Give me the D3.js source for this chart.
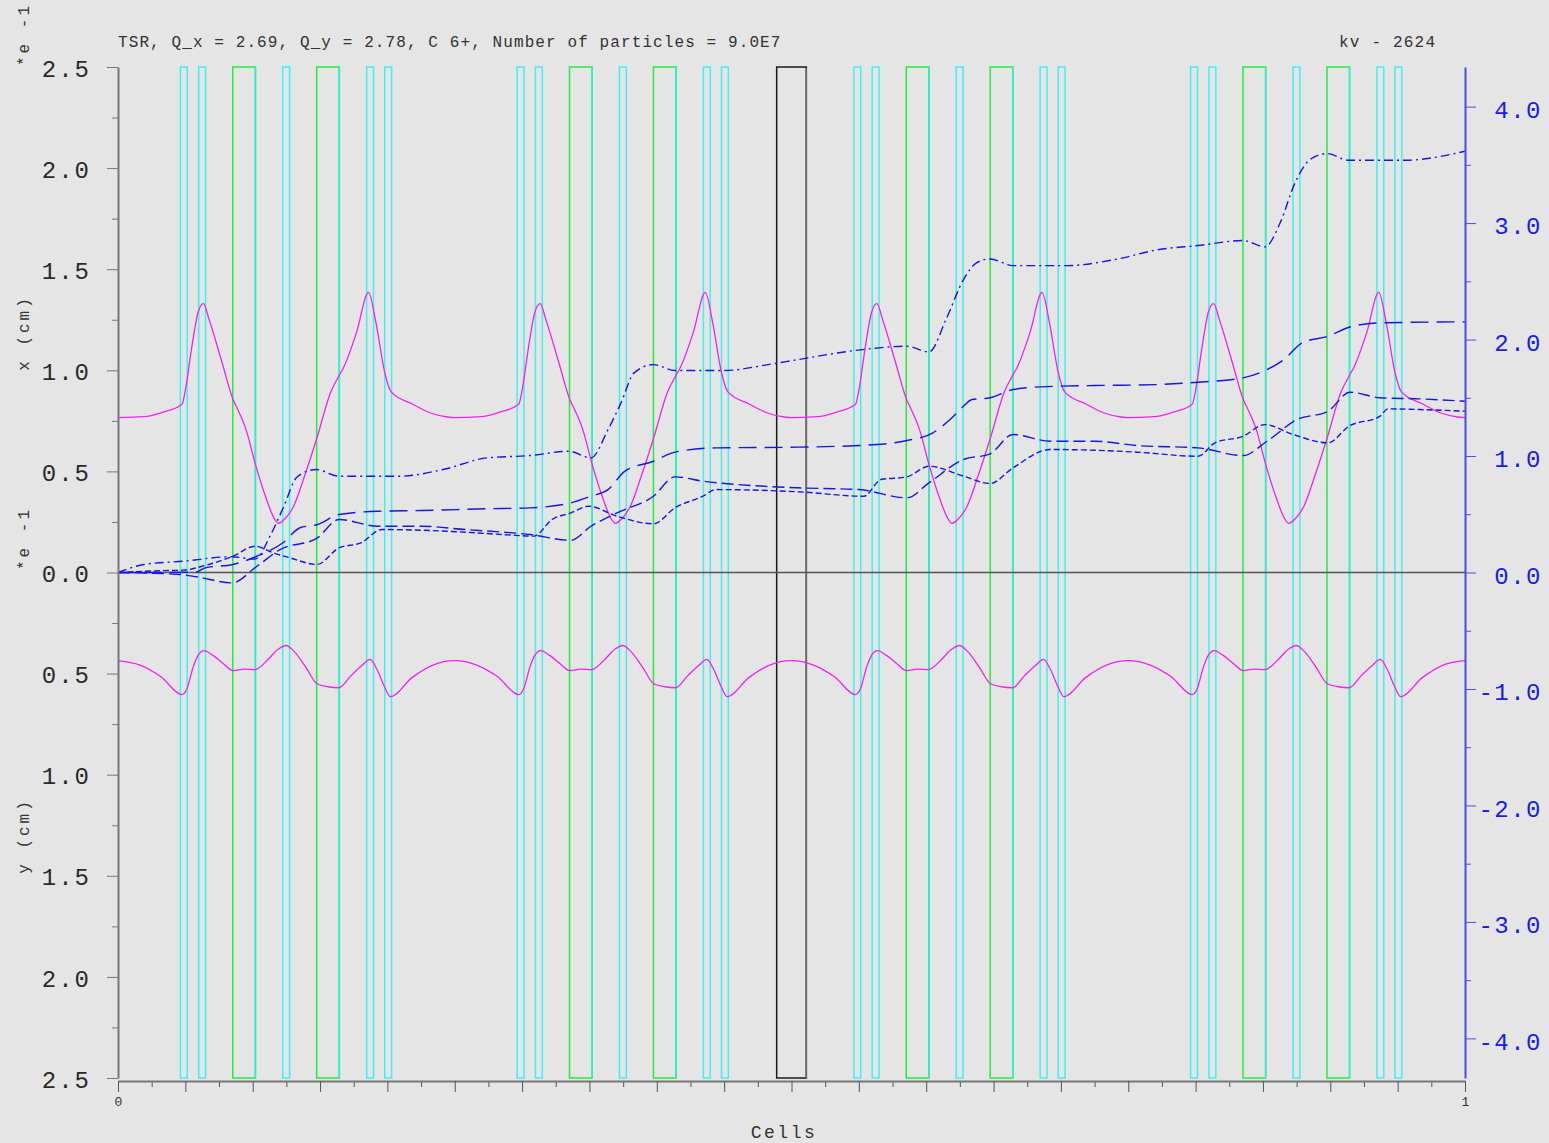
<!DOCTYPE html>
<html>
<head>
<meta charset="utf-8">
<title>TSR envelopes</title>
<script src="https://cdn.jsdelivr.net/npm/d3@7"></script>
<style>
  body { margin: 0; background: #e5e5e5; }
  text { font-family: "Liberation Mono", "DejaVu Sans Mono", monospace; }
</style>
</head>
<body>
<script>
// lattice elements, positions in cells (0 - 1)
var quadStarts = [0.0463, 0.0599, 0.1223, 0.1846, 0.1980, 0.2963, 0.3099, 0.3723, 0.4346, 0.4480,
                  0.5463, 0.5599, 0.6223, 0.6846, 0.6980, 0.7963, 0.8099, 0.8723, 0.9346, 0.9480];
var quadWidth = 0.0051;
var dipoleStarts = [0.0852, 0.1475, 0.3352, 0.3975, 0.5852, 0.6475, 0.8352, 0.8975];
var dipoleWidth = 0.0168;
var cavity = [0.4890, 0.5110];

// horizontal envelope x (cm, *e-1)
var xEnvCells = [
  0, 0.0193, 0.0319, 0.0475, 0.0497, 0.0549, 0.0594, 0.0634, 0.0676, 0.0772, 0.0854, 0.0883, 0.0950, 0.1024, 0.1094, 0.1158,
  0.1191, 0.1240, 0.1304, 0.1385, 0.1481, 0.1578, 0.1642, 0.1674, 0.1771, 0.1860, 0.1915, 0.1980, 0.2028, 0.2190, 0.2316, 0.2447,
  0.25, 0.2693, 0.2819, 0.2975, 0.2997, 0.3049, 0.3094, 0.3134, 0.3176, 0.3272, 0.3354, 0.3383, 0.3450, 0.3524, 0.3594, 0.3658,
  0.3691, 0.3740, 0.3804, 0.3885, 0.3981, 0.4078, 0.4142, 0.4174, 0.4271, 0.4360, 0.4415, 0.4480, 0.4528, 0.4690, 0.4816, 0.4947,
  0.5, 0.5193, 0.5319, 0.5475, 0.5497, 0.5549, 0.5594, 0.5634, 0.5676, 0.5772, 0.5854, 0.5883, 0.5950, 0.6024, 0.6094, 0.6158,
  0.6191, 0.6240, 0.6304, 0.6385, 0.6481, 0.6578, 0.6642, 0.6674, 0.6771, 0.6860, 0.6915, 0.6980, 0.7028, 0.7190, 0.7316, 0.7447,
  0.75, 0.7693, 0.7819, 0.7975, 0.7997, 0.8049, 0.8094, 0.8134, 0.8176, 0.8272, 0.8354, 0.8383, 0.8450, 0.8524, 0.8594, 0.8658,
  0.8691, 0.8740, 0.8804, 0.8885, 0.8981, 0.9078, 0.9142, 0.9174, 0.9271, 0.9360, 0.9415, 0.9480, 0.9528, 0.9690, 0.9816, 0.9947, 1];
var xEnvValues = [
  0.766, 0.771, 0.790, 0.832, 0.890, 1.120, 1.286, 1.330, 1.252, 1.040, 0.856, 0.815, 0.708, 0.526, 0.378, 0.270,
  0.243, 0.266, 0.328, 0.477, 0.675, 0.890, 0.975, 1.013, 1.187, 1.385, 1.236, 0.989, 0.893, 0.832, 0.790, 0.769,
  0.766, 0.771, 0.790, 0.832, 0.890, 1.120, 1.286, 1.330, 1.252, 1.040, 0.856, 0.815, 0.708, 0.526, 0.378, 0.270,
  0.243, 0.266, 0.328, 0.477, 0.675, 0.890, 0.975, 1.013, 1.187, 1.385, 1.236, 0.989, 0.893, 0.832, 0.790, 0.769,
  0.766, 0.771, 0.790, 0.832, 0.890, 1.120, 1.286, 1.330, 1.252, 1.040, 0.856, 0.815, 0.708, 0.526, 0.378, 0.270,
  0.243, 0.266, 0.328, 0.477, 0.675, 0.890, 0.975, 1.013, 1.187, 1.385, 1.236, 0.989, 0.893, 0.832, 0.790, 0.769,
  0.766, 0.771, 0.790, 0.832, 0.890, 1.120, 1.286, 1.330, 1.252, 1.040, 0.856, 0.815, 0.708, 0.526, 0.378, 0.270,
  0.243, 0.266, 0.328, 0.477, 0.675, 0.890, 0.975, 1.013, 1.187, 1.385, 1.236, 0.989, 0.893, 0.832, 0.790, 0.769, 0.766];

// vertical envelope y (cm, *e-1), drawn downwards
var yEnvCells = [
  0, 0.0163, 0.0319, 0.0475, 0.0512, 0.0557, 0.0594, 0.0638, 0.0705, 0.0780, 0.0854, 0.0935, 0.1017, 0.1114, 0.1188,
  0.1247, 0.1307, 0.1396, 0.1477, 0.1559, 0.1641, 0.1730, 0.1811, 0.1871, 0.1923, 0.1975, 0.2023, 0.2183, 0.2338,
  0.25, 0.2663, 0.2819, 0.2975, 0.3012, 0.3057, 0.3094, 0.3138, 0.3205, 0.3280, 0.3354, 0.3435, 0.3517, 0.3614, 0.3688,
  0.3747, 0.3807, 0.3896, 0.3977, 0.4059, 0.4141, 0.4230, 0.4311, 0.4371, 0.4423, 0.4475, 0.4523, 0.4683, 0.4838,
  0.5, 0.5163, 0.5319, 0.5475, 0.5512, 0.5557, 0.5594, 0.5638, 0.5705, 0.5780, 0.5854, 0.5935, 0.6017, 0.6114, 0.6188,
  0.6247, 0.6307, 0.6396, 0.6477, 0.6559, 0.6641, 0.6730, 0.6811, 0.6871, 0.6923, 0.6975, 0.7023, 0.7183, 0.7338,
  0.75, 0.7663, 0.7819, 0.7975, 0.8012, 0.8057, 0.8094, 0.8138, 0.8205, 0.8280, 0.8354, 0.8435, 0.8517, 0.8614, 0.8688,
  0.8747, 0.8807, 0.8896, 0.8977, 0.9059, 0.9141, 0.9230, 0.9311, 0.9371, 0.9423, 0.9475, 0.9523, 0.9683, 0.9838, 1];
var yEnvValues = [
  0.436, 0.458, 0.516, 0.604, 0.575, 0.470, 0.410, 0.386, 0.410, 0.450, 0.485, 0.478, 0.480, 0.430, 0.380,
  0.361, 0.390, 0.470, 0.550, 0.565, 0.570, 0.510, 0.460, 0.430, 0.480, 0.560, 0.614, 0.520, 0.458,
  0.436, 0.458, 0.516, 0.604, 0.575, 0.470, 0.410, 0.386, 0.410, 0.450, 0.485, 0.478, 0.480, 0.430, 0.380,
  0.361, 0.390, 0.470, 0.550, 0.565, 0.570, 0.510, 0.460, 0.430, 0.480, 0.560, 0.614, 0.520, 0.458,
  0.436, 0.458, 0.516, 0.604, 0.575, 0.470, 0.410, 0.386, 0.410, 0.450, 0.485, 0.478, 0.480, 0.430, 0.380,
  0.361, 0.390, 0.470, 0.550, 0.565, 0.570, 0.510, 0.460, 0.430, 0.480, 0.560, 0.614, 0.520, 0.458,
  0.436, 0.458, 0.516, 0.604, 0.575, 0.470, 0.410, 0.386, 0.410, 0.450, 0.485, 0.478, 0.480, 0.430, 0.380,
  0.361, 0.390, 0.470, 0.550, 0.565, 0.570, 0.510, 0.460, 0.430, 0.480, 0.560, 0.614, 0.520, 0.458, 0.436];

// blue curves, right axis
var dashDotCells = [0, 0.0193, 0.0483, 0.0839, 0.1017, 0.1136, 0.1232, 0.1329, 0.1470, 0.1641,
  0.2094, 0.2413, 0.2739, 0.3059, 0.3348, 0.3511, 0.3638, 0.3734, 0.3831, 0.3975,
  0.4135, 0.4506, 0.4826, 0.5048, 0.5471, 0.5857, 0.6021, 0.6147, 0.6277, 0.6373,
  0.6474, 0.6644, 0.7045, 0.7402, 0.7728, 0.8018, 0.8352, 0.8515, 0.8627, 0.8738,
  0.8849, 0.8976, 0.9139, 0.9562, 0.9755, 1];
var dashDotValues = [0, 0.069, 0.097, 0.135, 0.115, 0.33, 0.57, 0.82, 0.884, 0.827,
  0.827, 0.884, 0.984, 1.004, 1.041, 0.984, 1.227, 1.456, 1.714, 1.785,
  1.734, 1.734, 1.785, 1.828, 1.906, 1.943, 1.894, 2.172, 2.515, 2.658,
  2.692, 2.635, 2.635, 2.687, 2.773, 2.807, 2.85, 2.796, 3.0, 3.345,
  3.545, 3.597, 3.539, 3.539, 3.56, 3.617];

var longDashCells = [0, 0.0579, 0.0646, 0.0854, 0.1032, 0.1225, 0.1351, 0.1481, 0.1641, 0.1930,
  0.2257, 0.2739, 0.3059, 0.3363, 0.3511, 0.3638, 0.3764, 0.3975, 0.4135, 0.4439,
  0.5048, 0.5635, 0.5857, 0.6050, 0.6177, 0.6277, 0.6340, 0.6474, 0.6644, 0.6852,
  0.7246, 0.7728, 0.8018, 0.8352, 0.8530, 0.8656, 0.8790, 0.8983, 0.9139, 0.9369, 1];
var longDashValues = [0, 0.003, 0.04, 0.069, 0.14, 0.255, 0.384, 0.412, 0.498, 0.526,
  0.532, 0.547, 0.555, 0.598, 0.655, 0.712, 0.87, 0.955, 1.033, 1.07,
  1.076, 1.099, 1.133, 1.199, 1.313, 1.428, 1.485, 1.5, 1.571, 1.594,
  1.605, 1.614, 1.634, 1.671, 1.742, 1.828, 1.971, 2.028, 2.106, 2.143, 2.152];

var dashCells = [0, 0.0460, 0.0586, 0.0846, 0.1032, 0.1203, 0.1477, 0.1641, 0.1930, 0.2257,
  0.2576, 0.3059, 0.3363, 0.3511, 0.3705, 0.3975, 0.4135, 0.4343, 0.4506, 0.5048,
  0.5501, 0.5857, 0.6021, 0.6277, 0.6474, 0.6644, 0.6919, 0.7246, 0.7565, 0.8018,
  0.8352, 0.8530, 0.8753, 0.8983, 0.9146, 0.9369, 0.9659, 1];
var dashValues = [0, -0.017, -0.037, -0.089, 0.054, 0.197, 0.295, 0.455, 0.397, 0.397,
  0.369, 0.326, 0.277, 0.397, 0.512, 0.655, 0.821, 0.784, 0.764, 0.727,
  0.712, 0.641, 0.77, 0.97, 1.019, 1.185, 1.127, 1.127, 1.09, 1.07,
  1.004, 1.127, 1.313, 1.385, 1.548, 1.5, 1.491, 1.47];

var shortDashCells = [0, 0.0312, 0.0483, 0.0646, 0.0854, 0.1017, 0.1151, 0.1277, 0.1477, 0.1641,
  0.1804, 0.1960, 0.2257, 0.2576, 0.2895, 0.3088, 0.3222, 0.3363, 0.3493, 0.3705,
  0.3975, 0.4135, 0.4343, 0.4439, 0.5048, 0.5538, 0.5664, 0.5857, 0.6021, 0.6277,
  0.6474, 0.6644, 0.6919, 0.7246, 0.7565, 0.8018, 0.8144, 0.8352, 0.8515, 0.8723,
  0.8983, 0.9139, 0.9369, 0.9428, 0.9659, 1];
var shortDashValues = [0, 0.015, 0.02, 0.06, 0.14, 0.226, 0.169, 0.126, 0.069, 0.212,
  0.255, 0.369, 0.363, 0.346, 0.323, 0.312, 0.455, 0.512, 0.569, 0.483,
  0.418, 0.555, 0.655, 0.712, 0.693, 0.655, 0.798, 0.821, 0.912, 0.827,
  0.764, 0.898, 1.056, 1.05, 1.033, 0.998, 1.113, 1.17, 1.27, 1.185,
  1.113, 1.256, 1.342, 1.405, 1.399, 1.385];

// tick labels
var leftTicks = [2.5, 2.0, 1.5, 1.0, 0.5, 0.0, -0.5, -1.0, -1.5, -2.0, -2.5];
var rightTicks = [4, 3, 2, 1, 0, -1, -2, -3, -4];
var titleText = "TSR, Q_x = 2.69, Q_y = 2.78, C 6+, Number of particles = 9.0E7";
var tagText = "kv - 2624";

// sizes ("top" is taken by window, so plot* names)
var width = 1549, height = 1143;
var plotLeft = 118, plotRight = 1465, plotTop = 67, plotBottom = 1078;

var svg = d3.select("body").append("svg")
  .attr("width", width)
  .attr("height", height);

svg.append("rect")
  .attr("width", width)
  .attr("height", height)
  .attr("fill", "#e5e5e5");

// scales
var x = d3.scaleLinear().domain([0, 1]).range([plotLeft, plotRight]);
var yL = d3.scaleLinear().domain([-2.5, 2.5]).range([plotBottom, plotTop]);
var yR = d3.scaleLinear().domain([-4.34, 4.34]).range([plotBottom, plotTop]);

// elements
var elems = svg.append("g");
elems.selectAll(".quad")
  .data(quadStarts)
  .enter()
  .append("rect")
  .attr("x", function(d) { return x(d); })
  .attr("y", plotTop)
  .attr("width", function(d) { return x(d + quadWidth) - x(d); })
  .attr("height", plotBottom - plotTop)
  .attr("fill", "none")
  .attr("stroke", "#3cf2f2")
  .attr("stroke-width", 1.5);

elems.selectAll(".dip")
  .data(dipoleStarts)
  .enter()
  .append("rect")
  .attr("x", function(d) { return x(d); })
  .attr("y", plotTop)
  .attr("width", function(d) { return x(d + dipoleWidth) - x(d); })
  .attr("height", plotBottom - plotTop)
  .attr("fill", "none")
  .attr("stroke", "#22ee3a")
  .attr("stroke-width", 1.5);

// right edge of dipoles is cyan
elems.selectAll(".dipedge")
  .data(dipoleStarts)
  .enter()
  .append("line")
  .attr("x1", function(d) { return x(d + dipoleWidth); })
  .attr("x2", function(d) { return x(d + dipoleWidth); })
  .attr("y1", plotTop)
  .attr("y2", plotBottom)
  .attr("stroke", "#22f0e0")
  .attr("stroke-width", 1.5);

elems.append("rect")
  .attr("x", x(cavity[0]))
  .attr("y", plotTop)
  .attr("width", x(cavity[1]) - x(cavity[0]))
  .attr("height", plotBottom - plotTop)
  .attr("fill", "none")
  .attr("stroke", "#1a1a1a")
  .attr("stroke-width", 1.5);
elems.append("line")
  .attr("x1", x(cavity[1])).attr("x2", x(cavity[1]))
  .attr("y1", plotTop + 1).attr("y2", plotBottom)
  .attr("stroke", "#6a6a6a")
  .attr("stroke-width", 1.5);

// zero line
svg.append("line")
  .attr("x1", plotLeft).attr("x2", plotRight)
  .attr("y1", yL(0)).attr("y2", yL(0))
  .attr("stroke", "#555")
  .attr("stroke-width", 1.3);

// envelopes
var lineL = d3.line()
  .x(function(d) { return x(d[0]); })
  .y(function(d) { return yL(d[1]); })
  .curve(d3.curveMonotoneX);

svg.append("path")
  .datum(d3.zip(xEnvCells, xEnvValues))
  .attr("d", lineL)
  .attr("fill", "none")
  .attr("stroke", "#f022f0")
  .attr("stroke-width", 1.3);

svg.append("path")
  .datum(d3.zip(yEnvCells, yEnvValues.map(function(v) { return -v; })))
  .attr("d", lineL)
  .attr("fill", "none")
  .attr("stroke", "#f022f0")
  .attr("stroke-width", 1.3);

// blue curves
var lineR = d3.line()
  .x(function(d) { return x(d[0]); })
  .y(function(d) { return yR(d[1]); })
  .curve(d3.curveMonotoneX);

var blues = [
  {cells: dashDotCells, values: dashDotValues, dash: "9,4,2,4"},
  {cells: longDashCells, values: longDashValues, dash: "18,8"},
  {cells: dashCells, values: dashValues, dash: "12,5"},
  {cells: shortDashCells, values: shortDashValues, dash: "6,3"}
];

blues.forEach(function(b) {
  svg.append("path")
    .datum(d3.zip(b.cells, b.values))
    .attr("d", lineR)
    .attr("fill", "none")
    .attr("stroke", "#1414ee")
    .attr("stroke-width", 1.4)
    .attr("stroke-dasharray", b.dash);
});

// left axis
var leftMinor = d3.range(-2.25, 2.5, 0.5);
svg.append("g")
  .attr("transform", "translate(" + plotLeft + ",0)")
  .call(d3.axisLeft(yL).tickValues(leftMinor).tickSize(6).tickFormat(""))
  .call(function(g) { g.select(".domain").remove(); })
  .selectAll("line").attr("stroke", "#777");

var gL = svg.append("g")
  .attr("transform", "translate(" + plotLeft + ",0)")
  .call(d3.axisLeft(yL).tickValues(leftTicks).tickSize(11).tickSizeOuter(0).tickPadding(16)
    .tickFormat(function(d) { return Math.abs(d).toFixed(1); }));
gL.select(".domain").attr("stroke", "#777").attr("stroke-width", 2);
gL.selectAll("line").attr("stroke", "#777");
gL.selectAll("text")
  .attr("dy", "0.38em")
  .attr("fill", "#2a2a2a")
  .style("font-size", "24px")
  .style("letter-spacing", "2px");

// right axis
var rightMinor = d3.range(-3.5, 4, 1);
svg.append("g")
  .attr("transform", "translate(" + plotRight + ",0)")
  .call(d3.axisRight(yR).tickValues(rightMinor).tickSize(6).tickFormat(""))
  .call(function(g) { g.select(".domain").remove(); })
  .selectAll("line").attr("stroke", "#4a4af0");

var gR = svg.append("g")
  .attr("transform", "translate(" + plotRight + ",0)")
  .call(d3.axisRight(yR).tickValues(rightTicks).tickSize(11).tickSizeOuter(0)
    .tickFormat(function(d) { return d.toFixed(1); }));
gR.select(".domain").attr("stroke", "#4a4af0").attr("stroke-width", 2);
gR.selectAll("line").attr("stroke", "#4a4af0");
gR.selectAll("text")
  .attr("x", 77)
  .attr("dy", "0.45em")
  .attr("text-anchor", "end")
  .attr("fill", "#1a1af0")
  .style("font-size", "24px")
  .style("letter-spacing", "1.5px");

// bottom axis
var bottomY = 1081;
svg.append("g")
  .attr("transform", "translate(0," + bottomY + ")")
  .call(d3.axisBottom(x).tickValues(d3.range(1, 40, 2).map(function(i) { return i / 40; }))
    .tickSize(6).tickFormat(""))
  .call(function(g) { g.select(".domain").remove(); })
  .selectAll("line").attr("stroke", "#555");

var gB = svg.append("g")
  .attr("transform", "translate(0," + bottomY + ")")
  .call(d3.axisBottom(x).tickValues(d3.range(0, 21).map(function(i) { return i / 20; }))
    .tickSize(11).tickSizeOuter(0).tickPadding(5)
    .tickFormat(function(d) { return d === 0 ? "0" : (d === 1 ? "1" : ""); }));
gB.select(".domain").attr("stroke", "#777").attr("stroke-width", 2);
gB.selectAll("line").attr("stroke", "#555");
gB.selectAll("text")
  .attr("fill", "#333")
  .style("font-size", "13px");

svg.append("text")
  .attr("x", 784)
  .attr("y", 1138)
  .attr("text-anchor", "middle")
  .attr("fill", "#333")
  .style("font-size", "18px")
  .style("letter-spacing", "2.5px")
  .text("Cells");

// titles
svg.append("text")
  .attr("x", plotLeft)
  .attr("y", 47)
  .attr("fill", "#333")
  .style("font-size", "16px")
  .style("letter-spacing", "1.1px")
  .text(titleText);

svg.append("text")
  .attr("x", 1339)
  .attr("y", 47)
  .attr("fill", "#333")
  .style("font-size", "16px")
  .style("letter-spacing", "1.2px")
  .text(tagText);

// rotated labels on the left
var sideLabels = [
  {text: "*e -1", y: 66, anchor: "start"},
  {text: "x (cm)", y: 333, anchor: "middle"},
  {text: "*e -1", y: 570, anchor: "start"},
  {text: "y (cm)", y: 836, anchor: "middle"}
];
sideLabels.forEach(function(s) {
  svg.append("text")
    .attr("transform", "translate(29," + s.y + ") rotate(-90)")
    .attr("text-anchor", s.anchor)
    .attr("fill", "#333")
    .style("font-size", "16px")
    .style("letter-spacing", "3px")
    .text(s.text);
});
</script>
</body>
</html>
